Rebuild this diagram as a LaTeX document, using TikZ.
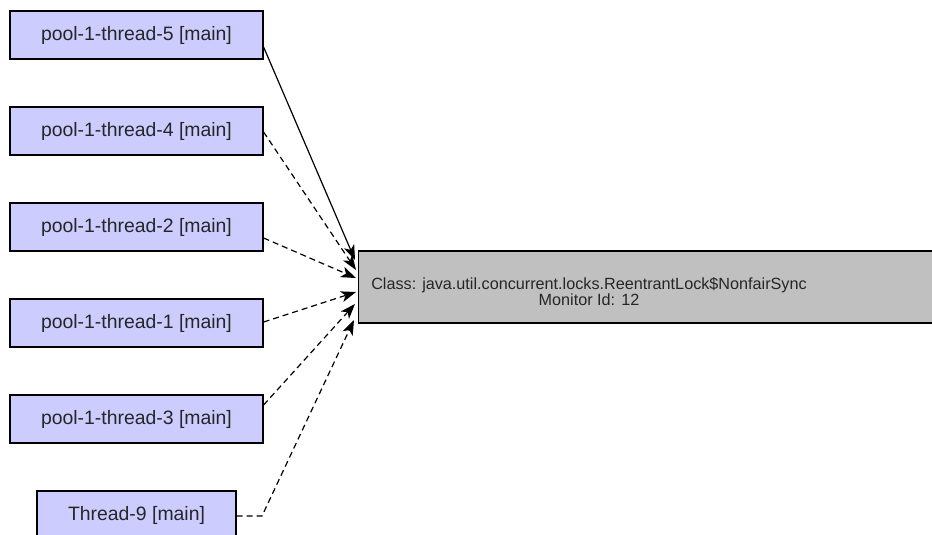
\documentclass[tikz,border=0pt]{standalone}
\usepackage{fontspec}
\setmainfont{Liberation Sans}
\usetikzlibrary{arrows.meta}

\tikzset{
  threadbox/.style={draw=black, line width=1.2pt, fill={rgb,255:red,204;green,204;blue,255},
    minimum height=48pt, inner sep=0pt, text=black!85,
    font=\fontsize{19.4}{23}\selectfont},
  lockbox/.style={draw=black, line width=1.2pt, fill={rgb,255:red,192;green,192;blue,192},
    minimum height=72pt, inner sep=0pt},
  locktext/.style={align=center, inner sep=0pt, text=black!85,
    font=\fontsize{16.2}{16}\selectfont},
  waits/.style={line width=1.2pt, dash pattern=on 6pt off 4pt,
    -{Stealth[length=15pt, width=11pt, inset=4pt]}},
  holds/.style={line width=1.2pt,
    -{Stealth[length=15pt, width=11pt, inset=4pt]}},
}

\begin{document}
\begin{tikzpicture}[x=1pt, y=-1pt]
  \useasboundingbox (0,0) rectangle (932,535);
  \clip (0,0) rectangle (932,535);

  % thread nodes
  \node[threadbox, minimum width=253pt] (t5) at (136.5,35)  {pool-1-thread-5 [main]};
  \node[threadbox, minimum width=253pt] (t4) at (136.5,131) {pool-1-thread-4 [main]};
  \node[threadbox, minimum width=253pt] (t2) at (136.5,227) {pool-1-thread-2 [main]};
  \node[threadbox, minimum width=253pt] (t1) at (136.5,323) {pool-1-thread-1 [main]};
  \node[threadbox, minimum width=253pt] (t3) at (136.5,419) {pool-1-thread-3 [main]};
  \node[threadbox, minimum width=199pt] (t9) at (136.5,515) {Thread-9 [main]};

  % monitor node
  \node[lockbox, minimum width=590pt, anchor=west] (g) at (358,287) {};
  \node[locktext] (gtext) at (589,292)
    {Class: java.util.concurrent.locks.ReentrantLock\$NonfairSync\\Monitor Id: 12};

  % edges
  \draw[holds] ([yshift=-12pt]t5.east) -- ([xshift=-3pt, yshift=27pt]g.west);
  \draw[waits] ([yshift=-1pt]t4.east)  -- ([xshift=-2pt, yshift=17pt]g.west);
  \draw[waits] ([yshift=-11pt]t2.east) -- ([xshift=-2pt, yshift=9pt]g.west);
  \draw[waits] ([yshift=1pt]t1.east)   -- ([xshift=-2pt, yshift=-5pt]g.west);
  \draw[waits] ([yshift=14pt]t3.east)  -- ([xshift=-3pt, yshift=-17pt]g.west);
  \coordinate (t9bend) at (262,516);
  \draw[waits] ([yshift=-1pt]t9.east) -- (t9bend) -- ([xshift=-4pt, yshift=-33pt]g.west);
\end{tikzpicture}
\end{document}
